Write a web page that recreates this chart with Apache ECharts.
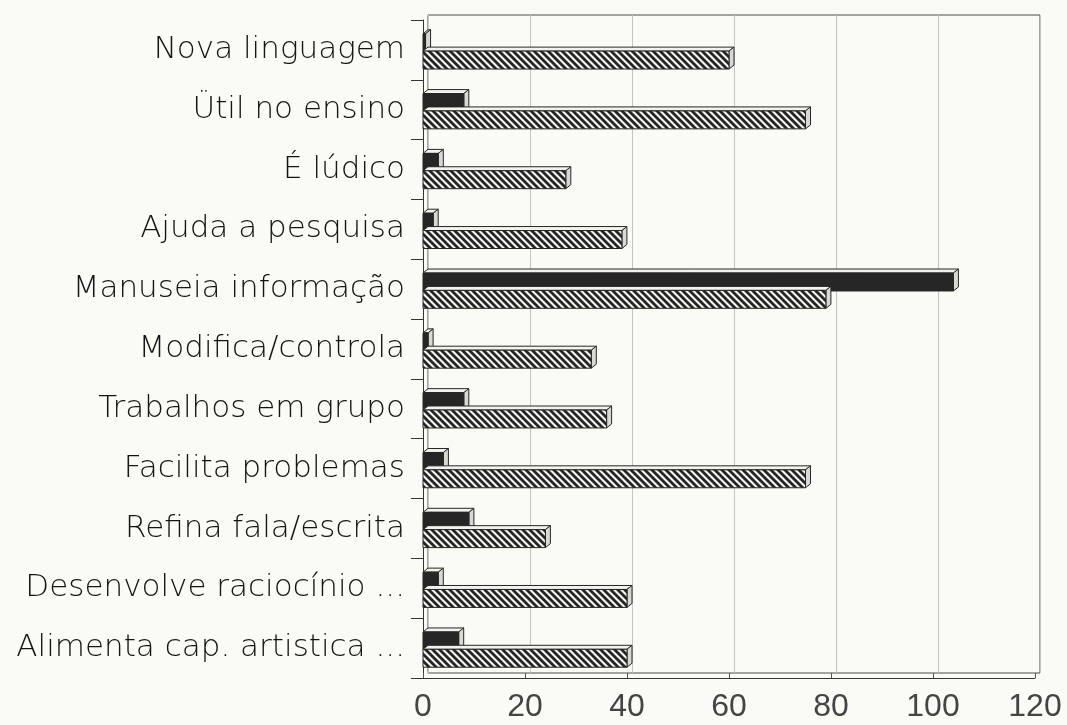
<!DOCTYPE html>
<html>
<head>
<meta charset="utf-8">
<script src="https://cdn.jsdelivr.net/npm/echarts@6/dist/echarts.min.js"></script>
<style>
  html, body { margin: 0; padding: 0; background: #fbfbf6; }
  #chart { width: 1067px; height: 725px; }
</style>
</head>
<body>
<div id="chart"></div>
<script>
// Categories, top to bottom
const categories = [
  'Nova linguagem',
  'Ütil no ensino',
  'É lúdico',
  'Ajuda a pesquisa',
  'Manuseia informação',
  'Modifica/controla',
  'Trabalhos em grupo',
  'Facilita problemas',
  'Refina fala/escrita',
  'Desenvolve raciocínio ...',
  'Alimenta cap. artistica ...'
];

// Solid (dark) series values
const darkValues = [0.5, 8, 3, 2, 104, 1, 8, 4, 9, 3, 7];

// Hatched series values
const hatchValues = [60, 75, 28, 39, 79, 33, 36, 75, 24, 40, 40];

// Value axis tick labels
const xTicks = [0, 20, 40, 60, 80, 100, 120];

const xMin = xTicks[0];
const xMax = xTicks[xTicks.length - 1];
const xStep = xTicks[1] - xTicks[0];

// Diagonal hatch tile
function hatchTile() {
  const s = 7;
  const c = document.createElement('canvas');
  c.width = s; c.height = s;
  const g = c.getContext('2d');
  g.fillStyle = '#f7f7f1';
  g.fillRect(0, 0, s, s);
  g.strokeStyle = '#262626';
  g.lineWidth = 2.8;
  g.lineCap = 'square';
  [[-s, 0, 0, s], [0, 0, s, s], [s, 0, 2 * s, s]].forEach(function (l) {
    g.beginPath();
    g.moveTo(l[0], l[1]);
    g.lineTo(l[2], l[3]);
    g.stroke();
  });
  return c;
}
const hatchFill = { image: hatchTile(), repeat: 'repeat' };

// Bar with a thin top face and end face for a shallow 3D look
function barRenderer(offsetFrac, frontFill) {
  return function (params, api) {
    const cat = api.value(0);
    const val = api.value(1);
    const p0 = api.coord([0, cat]);
    const p1 = api.coord([val, cat]);
    const band = api.size([0, 1])[1];
    const h = band * 0.3;
    const top = p0[1] + band * offsetFrac;
    const x0 = p0[0];
    const x1 = Math.max(p1[0], x0 + 1);
    const dx = 5, dy = 4;
    const edge = { stroke: '#262626', lineWidth: 1 };
    return {
      type: 'group',
      children: [
        {
          type: 'polygon',
          shape: { points: [[x0, top], [x0 + dx, top - dy], [x1 + dx, top - dy], [x1, top]] },
          style: Object.assign({ fill: '#f3f3ed' }, edge)
        },
        {
          type: 'polygon',
          shape: { points: [[x1, top], [x1 + dx, top - dy], [x1 + dx, top + h - dy], [x1, top + h]] },
          style: Object.assign({ fill: '#d9d9d3' }, edge)
        },
        {
          type: 'rect',
          shape: { x: x0, y: top, width: x1 - x0, height: h },
          style: Object.assign({ fill: frontFill }, edge)
        }
      ]
    };
  };
}

const darkData = categories.map(function (c, i) { return [i, darkValues[i]]; });
const hatchData = categories.map(function (c, i) { return [i, hatchValues[i]]; });

const chart = echarts.init(document.getElementById('chart'), null, { renderer: 'canvas' });

chart.setOption({
  backgroundColor: '#fbfbf6',
  animation: false,
  grid: [
    // front plane (axes, labels, bars)
    { left: 423, top: 20, right: 32, bottom: 47, show: false },
    // back wall (grid lines and box)
    { left: 428, top: 15, right: 27, bottom: 52, show: true,
      borderColor: '#4a4a4a', borderWidth: 1, backgroundColor: 'transparent' }
  ],
  xAxis: [
    {
      gridIndex: 0,
      type: 'value',
      min: xMin, max: xMax, interval: xStep,
      axisLine: { show: true, lineStyle: { color: '#333', width: 1 } },
      axisTick: { show: true, inside: true, length: 5, lineStyle: { color: '#555' } },
      splitLine: { show: false },
      axisLabel: {
        margin: 13,
        fontFamily: 'Liberation Sans',
        fontSize: 32,
        color: '#444'
      }
    },
    {
      gridIndex: 1,
      type: 'value',
      min: xMin, max: xMax, interval: xStep,
      axisLine: { show: false },
      axisTick: { show: false },
      axisLabel: { show: false },
      splitLine: { show: true, lineStyle: { color: '#c4c4c0', width: 1 } }
    }
  ],
  yAxis: [
    {
      gridIndex: 0,
      type: 'category',
      data: categories,
      inverse: true,
      axisLine: { show: true, lineStyle: { color: '#333', width: 1 } },
      axisTick: { show: true, length: 12, lineStyle: { color: '#333' } },
      splitLine: { show: false },
      axisLabel: {
        margin: 18,
        fontFamily: 'DejaVu Sans',
        fontWeight: 300,
        fontSize: 31,
        padding: [5, 0, 0, 0],
        color: '#141414'
      }
    },
    {
      gridIndex: 1,
      type: 'category',
      data: categories,
      inverse: true,
      show: false
    }
  ],
  series: [
    {
      name: 'Série 1',
      type: 'custom',
      xAxisIndex: 0, yAxisIndex: 0,
      renderItem: barRenderer(-0.27, '#262626'),
      encode: { x: 1, y: 0 },
      data: darkData
    },
    {
      name: 'Série 2',
      type: 'custom',
      xAxisIndex: 0, yAxisIndex: 0,
      renderItem: barRenderer(0.02, hatchFill),
      encode: { x: 1, y: 0 },
      data: hatchData
    }
  ]
});
</script>
</body>
</html>
